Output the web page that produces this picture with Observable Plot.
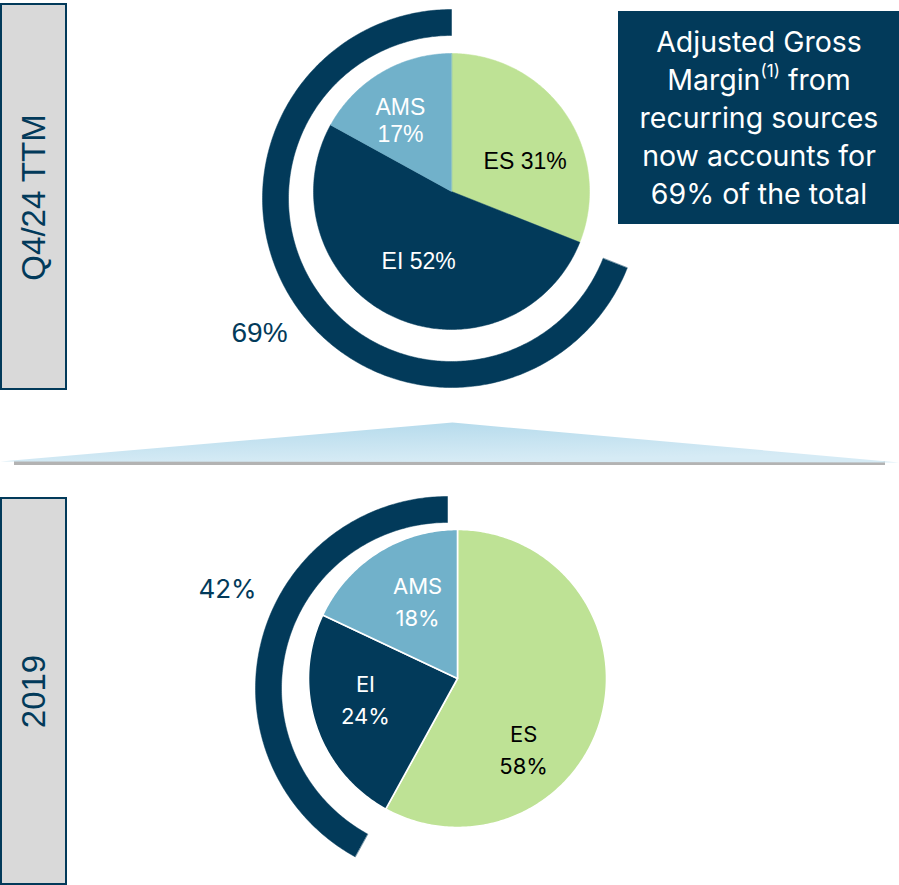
<!DOCTYPE html>
<html>
<head>
<meta charset="utf-8">
<script src="https://cdn.jsdelivr.net/npm/d3@7"></script>
<script src="https://cdn.jsdelivr.net/npm/@observablehq/plot@0.6"></script>
<style>
  html, body { margin: 0; padding: 0; background: #fff; }
  #chart svg { display: block; }
</style>
</head>
<body>
<div id="chart"></div>
<script>
// ---------------- data ----------------
const segments = ["ES", "EI", "AMS"];
const shareQ424 = [31, 52, 17];
const share2019 = [58, 24, 18];
const periods = ["Q4/24 TTM", "2019"];
const recurringShare = [69, 42];
const calloutLines = ["Adjusted Gross", "Margin(1) from", "recurring sources", "now accounts for", "69% of the total"];

// ---------------- styles / layout ----------------
const NAVY = "#023A5A";
const segColor = {ES: "#BEE295", EI: "#023A5A", AMS: "#71B1CA"};
const segText = {ES: "#000000", EI: "#FFFFFF", AMS: "#FFFFFF"};

const panels = [
  {
    shares: shareQ424, period: periods[0], rec: recurringShare[0],
    cx: 451, cy: 191, r: 138,
    ring: {cx: 451, cy: 198, r0: 163, r1: 189},
    sliceStroke: "none", sliceStrokeWidth: 0,
    labelFont: "Liberation Sans", labelSize: 23, lineHeight: 1.17,
    split: [false, false, true],
    labelPolar: [[67, 80], [205.6, 76], [324.5, 88]],
    recPos: [259, 333], recFont: "Liberation Sans", recSize: 28,
    box: [4, 389], periodY: 197
  },
  {
    shares: share2019, period: periods[1], rec: recurringShare[1],
    cx: 457, cy: 678, r: 149,
    ring: {cx: 447, cy: 688, r0: 166, r1: 192},
    sliceStroke: "#FFFFFF", sliceStrokeWidth: 1.6,
    labelFont: "Inter", labelSize: 22, lineHeight: 1.45,
    split: [true, true, true],
    labelPolar: [[136.5, 96], [258.3, 94], [333, 88]],
    recPos: [227, 589], recFont: "Inter", recSize: 26,
    box: [498, 884], periodY: 691
  }
];

// helpers: angles in degrees, clockwise from 12 o'clock
const polar = (cx, cy, r, a) => ({x: cx + r * Math.sin(a * Math.PI / 180), y: cy - r * Math.cos(a * Math.PI / 180)});
function arcPts(cx, cy, r, a0, a1) {
  const n = Math.max(2, Math.ceil(Math.abs(a1 - a0) / 0.75));
  return d3.range(n + 1).map(i => polar(cx, cy, r, a0 + (a1 - a0) * i / n));
}
function slicePolygon(cx, cy, r, a0, a1) {
  return [{x: cx, y: cy}, ...arcPts(cx, cy, r, a0, a1)];
}
function ringPolygon(ring, a0, a1) {
  return [...arcPts(ring.cx, ring.cy, ring.r1, a0, a1), ...arcPts(ring.cx, ring.cy, ring.r0, a1, a0)];
}

const marks = [];

// divider wedge with soft shadow
const wedge = [{x: 0, y: 461}, {x: 452, y: 422}, {x: 899, y: 462}];
marks.push(Plot.rect([{x1: 14, x2: 885, y1: 461, y2: 465}], {x1: "x1", x2: "x2", y1: "y1", y2: "y2", fill: "#9a9a9a", fillOpacity: 0.75, ariaLabel: "shadow"}));
marks.push(Plot.line(wedge, {x: "x", y: "y", curve: "linear-closed", fill: "url(#wedgeGrad)", stroke: "none"}));

panels.forEach(p => {
  // period box
  marks.push(Plot.rect([{x1: 1, x2: 66, y1: p.box[0], y2: p.box[1]}], {x1: "x1", x2: "x2", y1: "y1", y2: "y2", fill: "#D9D9D9", stroke: NAVY, strokeWidth: 2}));
  marks.push(Plot.text([p.period], {x: () => 34, y: () => p.periodY, text: d => d, rotate: -90, fontSize: 33, fill: NAVY, fontFamily: "Liberation Sans", textAnchor: "middle", lineAnchor: "middle"}));

  // recurring ring
  const span = 360 * p.rec / 100;
  marks.push(Plot.line(ringPolygon(p.ring, 360 - span, 360), {x: "x", y: "y", curve: "linear-closed", fill: NAVY, stroke: NAVY, strokeWidth: 0.5}));
  marks.push(Plot.text([p.rec + "%"], {x: () => p.recPos[0], y: () => p.recPos[1], text: d => d, fontSize: p.recSize, fill: NAVY, fontFamily: p.recFont, textAnchor: "middle", lineAnchor: "middle"}));

  // pie slices
  let acc = 0;
  const sl = segments.map((s, i) => {
    const a0 = acc * 3.6; acc += p.shares[i]; const a1 = acc * 3.6;
    return {seg: s, value: p.shares[i], a0, a1, i};
  });
  sl.forEach(d => {
    marks.push(Plot.line(slicePolygon(p.cx, p.cy, p.r, d.a0, d.a1), {
      x: "x", y: "y", curve: "linear-closed", fill: segColor[d.seg],
      stroke: p.sliceStroke === "none" ? segColor[d.seg] : p.sliceStroke,
      strokeWidth: p.sliceStroke === "none" ? 0.5 : p.sliceStrokeWidth, strokeLinejoin: "round"
    }));
  });
  // labels
  const labels = sl.map(d => {
    const [ang, rad] = p.labelPolar[d.i];
    const pt = polar(p.cx, p.cy, rad, ang);
    return {x: pt.x, y: pt.y, seg: d.seg, text: d.seg + (p.split[d.i] ? "\n" : " ") + d.value + "%"};
  });
  marks.push(Plot.text(labels, {x: "x", y: "y", text: "text", fill: d => segText[d.seg], fontSize: p.labelSize, fontFamily: p.labelFont, lineHeight: p.lineHeight, textAnchor: "middle", lineAnchor: "middle"}));
});

// callout box
marks.push(Plot.rect([{x1: 618, x2: 899, y1: 11, y2: 224}], {x1: "x1", x2: "x2", y1: "y1", y2: "y2", fill: NAVY}));
marks.push(Plot.text(calloutLines, {x: () => 758.5, y: (d, i) => 42 + i * 38, text: d => d, fill: "#FFFFFF", fontSize: 28.5, fontFamily: "Inter", textAnchor: "middle", lineAnchor: "middle"}));

const svg = Plot.plot({
  width: 899, height: 885, margin: 0,
  style: {background: "#FFFFFF", overflow: "visible"},
  x: {domain: [0, 899], range: [0, 899], axis: null},
  y: {domain: [0, 885], range: [0, 885], axis: null},
  marks
});

// defs: gradient and blur
const s = d3.select(svg);
const defs = s.insert("defs", ":first-child");
const g = defs.append("linearGradient").attr("id", "wedgeGrad").attr("x1", 0).attr("y1", 0).attr("x2", 0.3).attr("y2", 1);
g.append("stop").attr("offset", "0%").attr("stop-color", "#B2D9EB");
g.append("stop").attr("offset", "100%").attr("stop-color", "#D6EBF5");
defs.append("filter").attr("id", "blurShadow").attr("x", "-10%").attr("y", "-300%").attr("width", "120%").attr("height", "700%")
  .append("feGaussianBlur").attr("stdDeviation", "6 2.5");
s.selectAll('g[aria-label="shadow"]').attr("filter", "url(#blurShadow)");

// superscript (1)
s.selectAll("text").filter(function () { return this.textContent === "Margin(1) from"; }).each(function () {
  const t = d3.select(this);
  t.text(null);
  t.append("tspan").text("Margin");
  t.append("tspan").attr("font-size", "60%").attr("dy", "-0.75em").text("(1)");
  t.append("tspan").attr("dy", "0.45em").text(" from");
});

document.getElementById("chart").appendChild(svg);
</script>
</body>
</html>
